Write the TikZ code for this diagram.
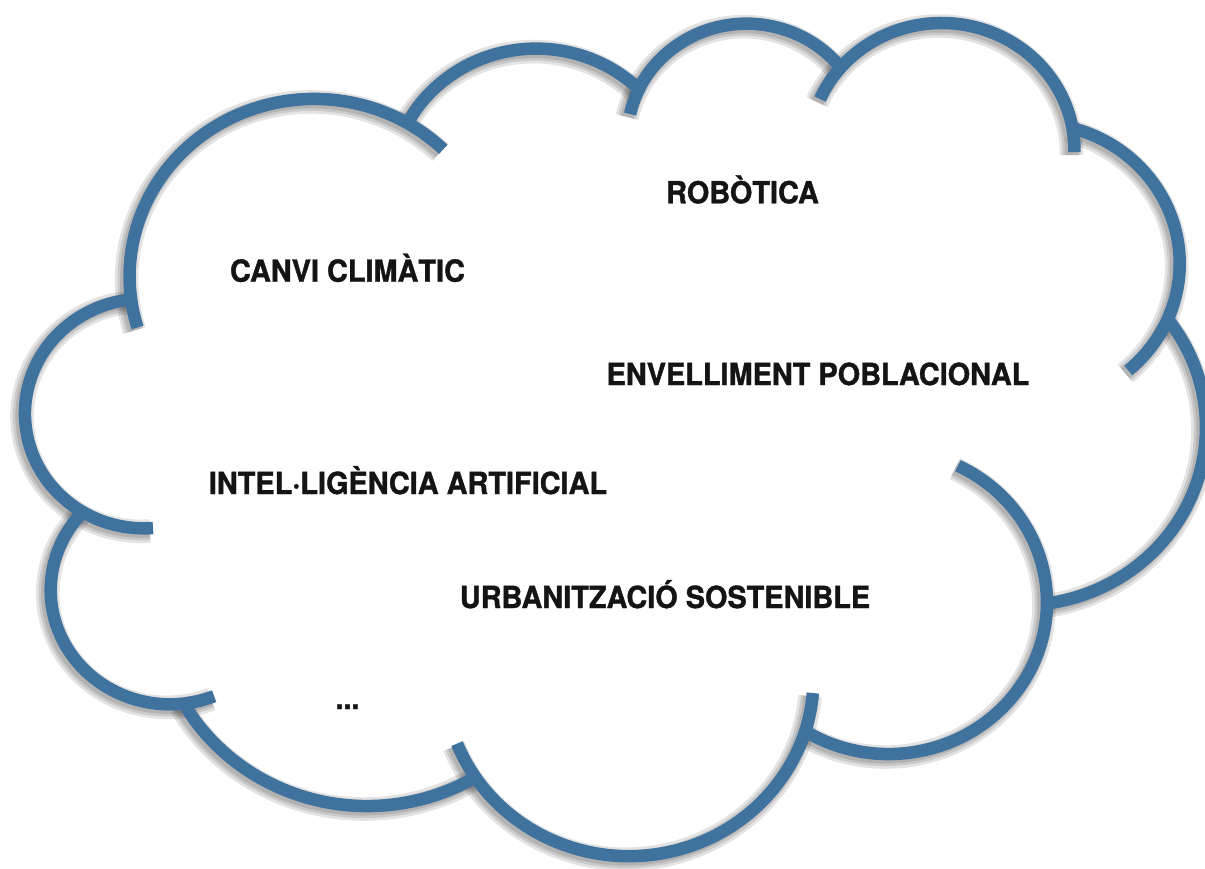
\documentclass[tikz,border=0pt]{standalone}
\usepackage{fontspec}
\setmainfont{TeX Gyre Heros}[FakeStretch=0.95, BoldFeatures={FakeBold=1.2}]
\definecolor{cloudblue}{RGB}{64,114,158}
\tikzset{
  cloudline/.style={draw=cloudblue, line width=6.25pt},
  shadowline/.style={draw=black, line width=#1, opacity=0.11},
  lbl/.style={anchor=base, inner sep=0pt, font=\fontsize{15.2}{18}\selectfont\bfseries, text=black!92}
}
% #1 style, #2 centre, #3 start angle, #4 delta angle, #5 x radius, #6 y radius
\newcommand\cloudarc[6]{\draw[#1] (#2) ++(#3:#5 and #6) arc[start angle=#3, delta angle=#4, x radius=#5, y radius=#6];}
\newcommand\cloudall[1]{%
  \cloudarc{#1}{c1}{-163.20}{-151.08}{92.35pt}{88.68pt}
  \cloudarc{#1}{c2}{152.03}{-106.61}{72.93pt}{70.13pt}
  \cloudarc{#1}{c3}{167.725}{-130.395}{59.69pt}{57.37pt}
  \cloudarc{#1}{c4}{156.27}{-157.09}{66.42pt}{63.64pt}
  \cloudarc{#1}{c5}{74.77}{-124.41}{72.93pt}{70.18pt}
  \cloudarc{#1}{c6}{37.51}{-119.37}{92.65pt}{88.97pt}
  \cloudarc{#1}{c7}{64.03}{-186.01}{79.11pt}{75.92pt}
  \cloudarc{#1}{c8}{-4.738}{-153.732}{92.33pt}{88.92pt}
  \cloudarc{#1}{c9}{-59.13}{-91.13}{105.57pt}{101.74pt}
  \cloudarc{#1}{c10}{-68.23}{-155.01}{59.62pt}{57.11pt}
  \cloudarc{#1}{c11}{-85.54}{-178.57}{59.42pt}{57.37pt}
}
\begin{document}
\begin{tikzpicture}
\useasboundingbox (0,0) rectangle (602.5pt,-434pt);
\fill[white] (0,0) rectangle (602.5pt,-434pt);
\begin{scope}[shift={(12.35pt,-11.5pt)}, x=0.013675pt, y=-0.00965pt]
  \coordinate (c1) at (10591.4,13131.5);
  \coordinate (c2) at (18710.3,8599.7);
  \coordinate (c3) at (26406.2,5984);
  \coordinate (c4) at (33534,6600);
  \coordinate (c5) at (36905,12468);
  \coordinate (c6) at (36423.5,20967.6);
  \coordinate (c7) at (31597.9,30031.7);
  \coordinate (c8) at (22094,33978);
  \coordinate (c9) at (12521.9,30050.9);
  \coordinate (c10) at (5310.8,29403.1);
  \coordinate (c11) at (4355,20250);
\end{scope}
\begin{scope}[transform canvas={shift={(-1.5pt,-1.5pt)}}]
  \cloudall{shadowline=11.75pt}
  \cloudall{shadowline=9pt}
  \cloudall{shadowline=6.5pt}
\end{scope}
\cloudall{cloudline}
\node[lbl] (robotica) at (371.25pt,-101.65pt) {ROBÒTICA};
\node[lbl] (canvi) at (173.75pt,-140.85pt) {CANVI CLIMÀTIC};
\node[lbl] (envelliment) at (409pt,-192.5pt) {ENVELLIMENT POBLACIONAL};
\node[lbl] (ia) at (204pt,-247pt) {INTEL·LIGÈNCIA ARTIFICIAL};
\node[lbl] (urbanitzacio) at (332.5pt,-304pt) {URBANITZACIÓ SOSTENIBLE};
\node[lbl] (etc) at (173.75pt,-354.5pt) {...};
\end{tikzpicture}
\end{document}
